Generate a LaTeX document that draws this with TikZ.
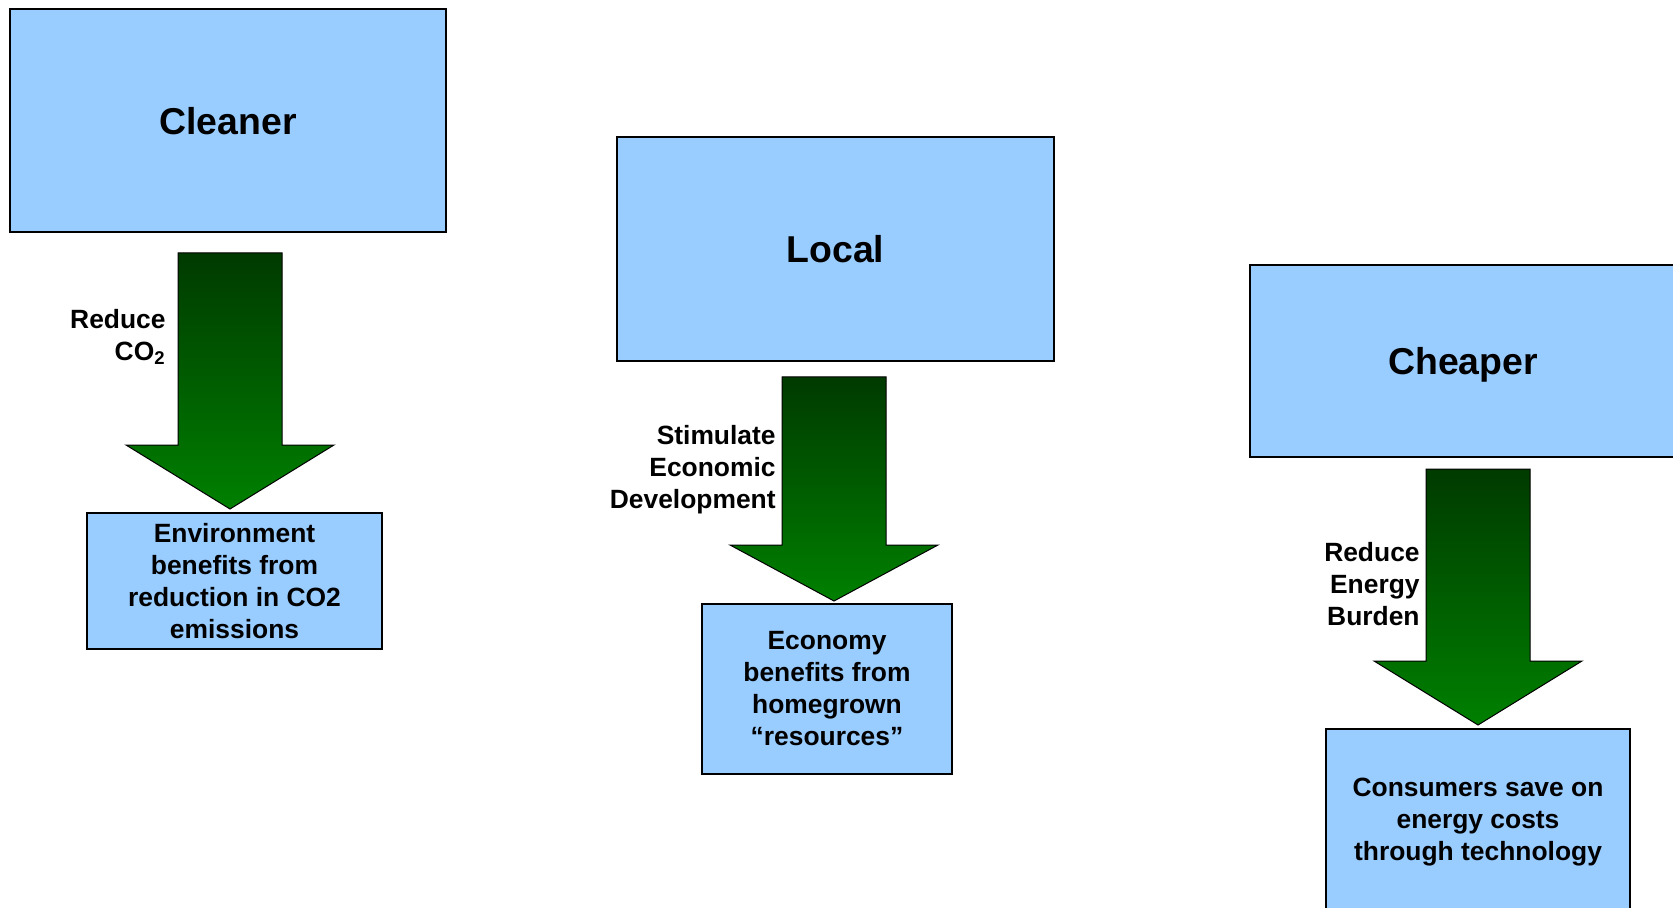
\documentclass[tikz,border=0pt]{standalone}
\usepackage{fontspec}
\setmainfont{Liberation Sans}
\usetikzlibrary{positioning}
\definecolor{boxblue}{RGB}{153,204,255}
\definecolor{arrdark}{RGB}{0,58,0}
\definecolor{arrlight}{RGB}{0,128,0}
\tikzset{
  bigbox/.style={draw=black, line width=0.9pt, fill=boxblue, inner sep=0pt, text depth=0pt,
    font=\fontsize{18.7}{22}\selectfont\bfseries},
  smallbox/.style={draw=black, line width=0.8pt, fill=boxblue, inner sep=0pt,
    align=center, font=\fontsize{13.2}{16}\selectfont\bfseries},
  lab/.style={anchor=east, align=right, inner sep=0pt,
    font=\fontsize{13.2}{16}\selectfont\bfseries},
  blockarr/.style={draw=black, line width=0.5pt, top color=arrdark, bottom color=arrlight}
}

\begin{document}
\begin{tikzpicture}[x=0.5pt, y=-0.5pt]
\useasboundingbox (0,0) rectangle (1673,908);
\clip (0,0) rectangle (1673,908);
% ---- headline boxes ----
\node[bigbox, minimum width=218pt, minimum height=111.5pt] (cleaner) at (228,120.5) {Cleaner};
\node[bigbox, minimum width=218.5pt, minimum height=112pt] (local) at (835.5,249) {Local};
\node[bigbox, minimum width=213pt, minimum height=96pt] (cheaper) at (1463,361) {Cheaper};
% ---- block arrows: centre x / top / wings / tip ----
\foreach \cx/\ya/\yw/\yt in {230/253/445/509, 834/377/545/601, 1478/469/661/725}{
  \draw[blockarr] (\cx-52,\ya) -- (\cx+52,\ya) -- (\cx+52,\yw) -- (\cx+104,\yw)
    -- (\cx,\yt) -- (\cx-104,\yw) -- (\cx-52,\yw) -- cycle;
}
% ---- arrow labels ----
\node[lab] (redco) at (166,337) {Reduce\\CO\textsubscript{2}};
\node[lab] (stim) at (776,470) {Stimulate\\Economic\\Development};
\node[lab] (redeb) at (1420,584) {Reduce\\Energy\\Burden};
% ---- result boxes ----
\node[smallbox, minimum width=147.5pt, minimum height=68pt] (envir) at (234.5,581)
  {Environment\\benefits from\\reduction in CO2\\emissions};
\node[smallbox, minimum width=125pt, minimum height=85pt] (econ) at (827,689)
  {Economy\\benefits from\\homegrown\\“resources”};
\node[smallbox, minimum width=152pt, minimum height=93.5pt] (consum) at (1478,822.5)
  {Consumers save on\\energy costs\\through technology};
\end{tikzpicture}
\end{document}
